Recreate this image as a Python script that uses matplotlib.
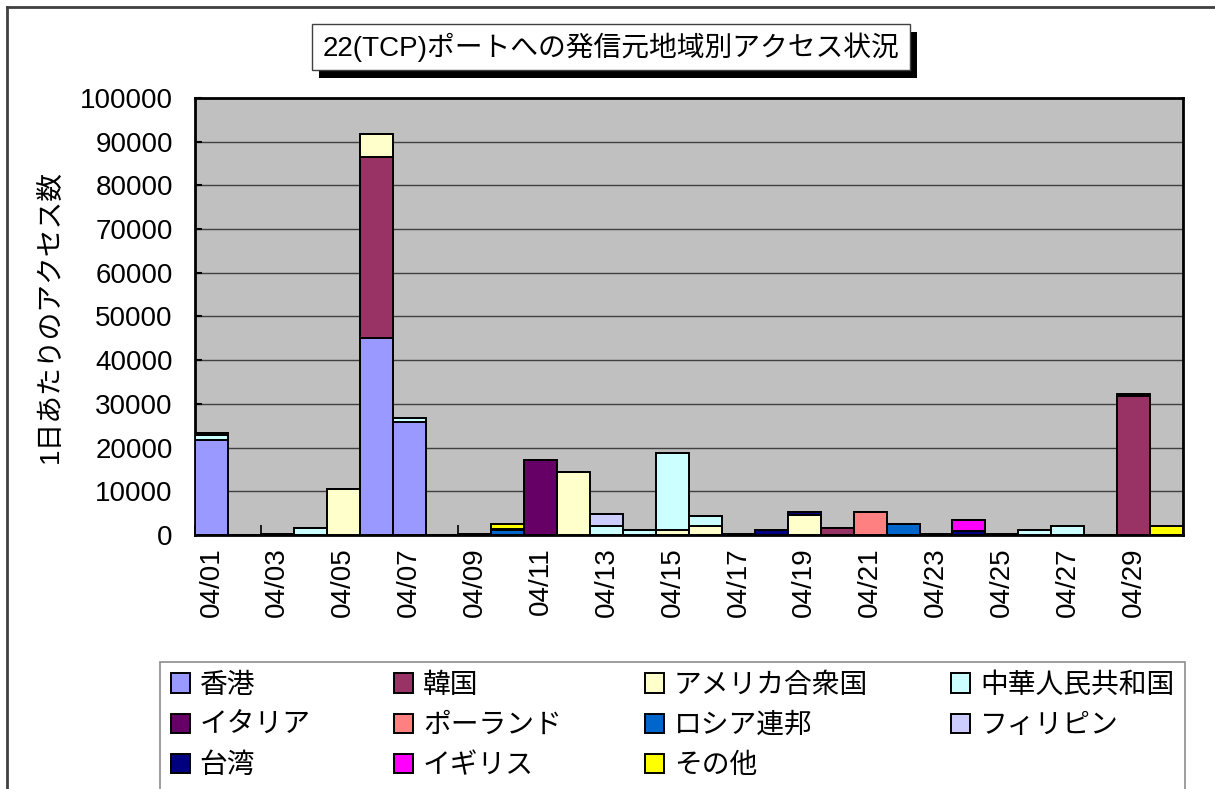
import matplotlib
matplotlib.use("Agg")
from matplotlib import pyplot as plt
from matplotlib.patches import Rectangle
from matplotlib.lines import Line2D
import numpy as np

plt.rcParams['font.family'] = ['Liberation Sans', 'Noto Sans CJK JP', 'DejaVu Sans']

days = ["04/%02d" % d for d in range(1, 31)]

# per-day access counts by source region (04/01 .. 04/30)
hongkong    = [21700, 0, 0, 0, 0, 45000, 25900, 0, 0, 0, 0, 0, 0, 0, 0, 0, 0, 0, 0, 0, 0, 0, 0, 0, 0, 0, 0, 0, 0, 0]
korea       = [0, 0, 0, 0, 0, 41500, 0, 0, 0, 0, 0, 0, 0, 0, 0, 0, 0, 0, 0, 1700, 0, 0, 0, 0, 0, 0, 0, 0, 31700, 0]
america     = [0, 0, 0, 0, 10500, 5300, 0, 0, 0, 0, 0, 14400, 0, 0, 1100, 2100, 0, 0, 4600, 0, 0, 0, 0, 0, 0, 0, 0, 0, 0, 0]
china       = [1200, 0, 0, 1700, 0, 0, 900, 0, 0, 0, 0, 0, 2100, 1100, 17600, 2200, 0, 0, 0, 0, 0, 0, 0, 0, 0, 1100, 2100, 0, 0, 0]
italy       = [0, 0, 0, 0, 0, 0, 0, 0, 0, 0, 17200, 0, 0, 0, 0, 0, 0, 0, 0, 0, 0, 0, 0, 0, 0, 0, 0, 0, 0, 0]
poland      = [0, 0, 0, 0, 0, 0, 0, 0, 0, 0, 0, 0, 0, 0, 0, 0, 0, 0, 0, 0, 5300, 0, 0, 0, 0, 0, 0, 0, 0, 0]
russia      = [0, 0, 0, 0, 0, 0, 0, 0, 0, 1200, 0, 0, 0, 0, 0, 0, 0, 0, 0, 0, 0, 2500, 0, 0, 0, 0, 0, 0, 0, 0]
philippines = [0, 0, 0, 0, 0, 0, 0, 0, 0, 0, 0, 0, 2700, 0, 0, 0, 0, 0, 0, 0, 0, 0, 0, 0, 0, 0, 0, 0, 0, 0]
taiwan      = [500, 0, 300, 0, 0, 0, 0, 0, 300, 200, 0, 0, 0, 0, 0, 0, 300, 1100, 600, 0, 0, 0, 300, 1000, 300, 0, 0, 0, 600, 0]
britain     = [0, 0, 0, 0, 0, 0, 0, 0, 0, 0, 0, 0, 0, 0, 0, 0, 0, 0, 0, 0, 0, 0, 0, 2400, 0, 0, 0, 0, 0, 0]
other       = [0, 0, 0, 0, 0, 0, 0, 0, 0, 1100, 0, 0, 0, 0, 0, 0, 0, 0, 0, 0, 0, 0, 0, 0, 0, 0, 0, 0, 0, 2000]

series = [hongkong, korea, america, china, italy, poland, russia, philippines, taiwan, britain, other]
names = ["香港", "韓国", "アメリカ合衆国", "中華人民共和国", "イタリア", "ポーランド",
         "ロシア連邦", "フィリピン", "台湾", "イギリス", "その他"]
colors = ["#9999FF", "#993366", "#FFFFCC", "#CCFFFF", "#660066", "#FF8080",
          "#0066CC", "#CCCCFF", "#000080", "#FF00FF", "#FFFF00"]

W, H = 1215, 789
fig = plt.figure(figsize=(W / 100, H / 100), dpi=100)
ax = fig.add_axes([195 / W, 1 - 535 / H, (1183 - 195) / W, (535 - 98) / H])
ax.set_facecolor("#C0C0C0")

x = np.arange(len(days))
bottom = np.zeros(len(days))
handles = []
for vals, name, c in zip(series, names, colors):
    vals = np.array(vals)
    b = ax.bar(x, vals, width=1.0, bottom=bottom, color=c, edgecolor="black",
               linewidth=1.4, label=name, zorder=3)
    handles.append(b)
    bottom += vals

ax.set_xlim(-0.5, len(days) - 0.5)
ax.set_ylim(0, 100000)
ax.set_yticks(np.arange(0, 100001, 10000))
ax.yaxis.grid(True, color="#404040", linewidth=1.0, zorder=1)
ax.tick_params(axis="y", direction="in", length=5, width=1.5, labelsize=20, pad=16)

ax.set_xticks(x[::2])
ax.set_xticklabels(days[::2], rotation=90, fontsize=20)
ax.tick_params(axis="x", length=0, pad=9)
ax.set_xticks(np.arange(-0.5, len(days), 2), minor=True)
ax.tick_params(axis="x", which="minor", direction="in", length=7, width=1.2)

for s in ax.spines.values():
    s.set_linewidth(2)
    s.set_color("black")

ax.set_ylabel("1日あたりのアクセス数", fontsize=20)
ax.yaxis.set_label_coords(-(195 - 64) / 988, 0.5)

# outer chart border (only left and top visible in the frame)
fig.add_artist(Line2D([7 / W, 7 / W], [0, 1 - 7 / H], color="#404040", linewidth=2))
fig.add_artist(Line2D([7 / W, 1], [1 - 7 / H, 1 - 7 / H], color="#404040", linewidth=2))

# title box with shadow
fig.add_artist(Rectangle((319 / W, 1 - 78 / H), (910 - 312) / W, (70 - 24) / H,
                         transform=fig.transFigure, facecolor="black", edgecolor="none"))
fig.add_artist(Rectangle((312 / W, 1 - 70 / H), (910 - 312) / W, (70 - 24) / H,
                         transform=fig.transFigure, facecolor="white", edgecolor="#404040",
                         linewidth=1))
fig.text(611 / W, 1 - 47 / H, "22(TCP)ポートへの発信元地域別アクセス状況",
         fontsize=20, ha="center", va="center")

# legend: row-major order in reference, matplotlib fills column-major
order = [0, 4, 8, 1, 5, 9, 2, 6, 10, 3, 7]
leg = fig.legend([handles[i] for i in order], [names[i] for i in order],
                 ncol=4, mode="expand", loc="upper left",
                 bbox_to_anchor=(160 / W, 1 - 788 / H, (1185 - 160) / W, (788 - 662) / H),
                 fontsize=20, frameon=True, fancybox=False, edgecolor="#707070",
                 handlelength=0.7, handleheight=0.7, handletextpad=0.35,
                 labelspacing=0.52, borderpad=0.38, borderaxespad=0)
leg.get_frame().set_linewidth(1.2)

fig.savefig("out.png", dpi=100)
